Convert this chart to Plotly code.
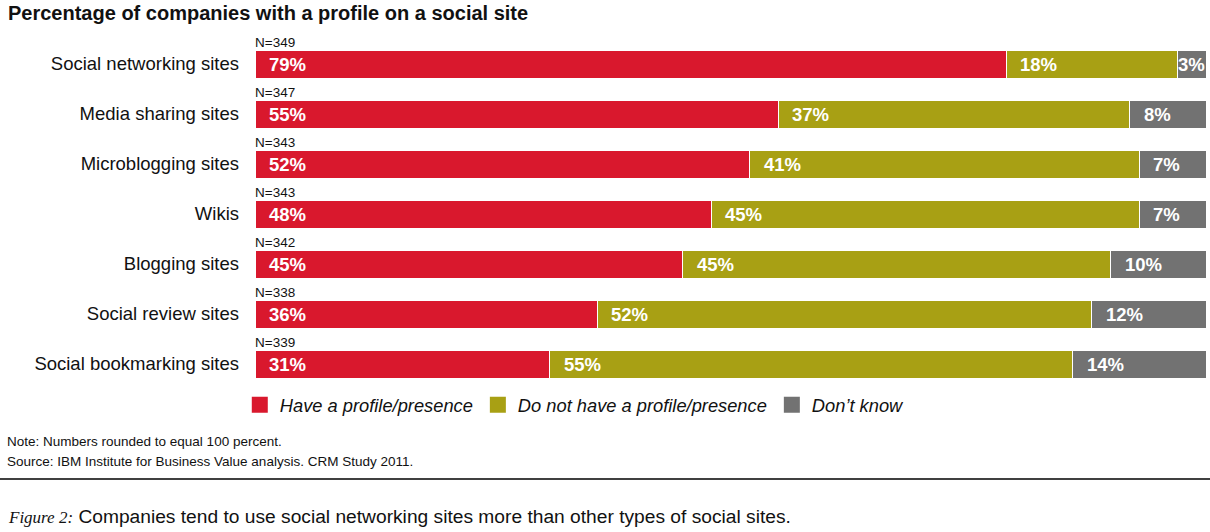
import plotly.graph_objects as go

# data
categories = ['Social networking sites', 'Media sharing sites', 'Microblogging sites', 'Wikis',
              'Blogging sites', 'Social review sites', 'Social bookmarking sites']
sample_sizes = [349, 347, 343, 343, 342, 338, 339]
have_profile = [79, 55, 52, 48, 45, 36, 31]
no_profile = [18, 37, 41, 45, 45, 52, 55]
dont_know = [3, 8, 7, 7, 10, 12, 14]

series_names = ['Have a profile/presence', 'Do not have a profile/presence', 'Don\u2019t know']
series_values = [have_profile, no_profile, dont_know]
colors = ['#D9182D', '#A8A014', '#727272']

FONT = 'Liberation Sans'
W, H = 1210, 532
ML, MR, MT, MB = 255, 4, 39, 143
plot_w = W - ML - MR
plot_h = H - MT - MB


def px_x(p):
    return (p - ML) / plot_w


def px_y(p):
    return (H - MB - p) / plot_h


fig = go.Figure()
for name, vals, col in zip(series_names, series_values, colors):
    fig.add_trace(go.Bar(y=categories, x=vals, orientation='h', name=name,
                         marker=dict(color=col, line=dict(color='white', width=1)),
                         showlegend=False, hoverinfo='x+y'))
    # legend entry with a bigger square
    fig.add_trace(go.Scatter(x=[None], y=[None], mode='markers', name=name,
                             marker=dict(symbol='square', size=16, color=col)))

annotations = []
# percentage labels, left aligned in each segment, plus the N= labels above the bars
for i, cat in enumerate(categories):
    start = 0
    for vals in series_values:
        v = vals[i]
        annotations.append(dict(x=start, y=cat, xref='x', yref='y', text='<b>%d%%</b>' % v,
                                showarrow=False, xanchor='left', xshift=12 if v >= 5 else -1,
                                font=dict(family=FONT, size=18.5, color='white')))
        start += v
    annotations.append(dict(x=0, y=cat, xref='x', yref='y', text='N=%d' % sample_sizes[i],
                            showarrow=False, xanchor='left', yanchor='bottom', yshift=12, xshift=-2,
                            font=dict(family=FONT, size=13.5, color='#111111')))

annotations.append(dict(x=px_x(6), y=px_y(13), xref='paper', yref='paper',
                        text='<b>Percentage of companies with a profile on a social site</b>',
                        showarrow=False, xanchor='left', yanchor='middle',
                        font=dict(family=FONT, size=20, color='#111111')))

footer = [
    ('Note: Numbers rounded to equal 100 percent.', 441),
    ('Source: IBM Institute for Business Value analysis. CRM Study 2011.', 461),
]
for txt, ypix in footer:
    annotations.append(dict(x=px_x(5), y=px_y(ypix), xref='paper', yref='paper', text=txt,
                            showarrow=False, xanchor='left', yanchor='middle',
                            font=dict(family=FONT, size=13.5, color='#111111')))

annotations.append(dict(
    x=px_x(6), y=px_y(516), xref='paper', yref='paper',
    text='<span style="font-family:Liberation Serif;font-style:italic;font-size:17px">Figure 2:</span> '
         'Companies tend to use social networking sites more than other types of social sites.',
    showarrow=False, xanchor='left', yanchor='middle',
    font=dict(family=FONT, size=19.2, color='#111111')))

fig.update_layout(
    width=W, height=H,
    margin=dict(l=ML, r=MR, t=MT, b=MB),
    paper_bgcolor='white', plot_bgcolor='white',
    barmode='stack', bargap=0.44,
    xaxis=dict(range=[0, 100], visible=False, fixedrange=True),
    yaxis=dict(range=[len(categories) - 0.5, -0.5], showgrid=False, zeroline=False, showline=False,
               ticks='', ticklabelstandoff=15, fixedrange=True,
               tickfont=dict(family=FONT, size=18.5, color='#111111')),
    legend=dict(orientation='h', x=-0.016, y=-0.045, xanchor='left', yanchor='middle',
                traceorder='normal',
                font=dict(family=FONT, size=18.3, color='#111111', style='italic'),
                itemclick=False, itemdoubleclick=False),
    annotations=annotations,
)

fig.add_shape(type='line', xref='paper', yref='paper', x0=px_x(0), x1=px_x(W),
              y0=px_y(479), y1=px_y(479), line=dict(color='black', width=1.5))

# drop the default page margin so the figure sits at the top-left corner
fig.write_html('out.html', config={'displayModeBar': False},
               post_script="document.body.style.margin='0';document.body.style.overflow='hidden';")
